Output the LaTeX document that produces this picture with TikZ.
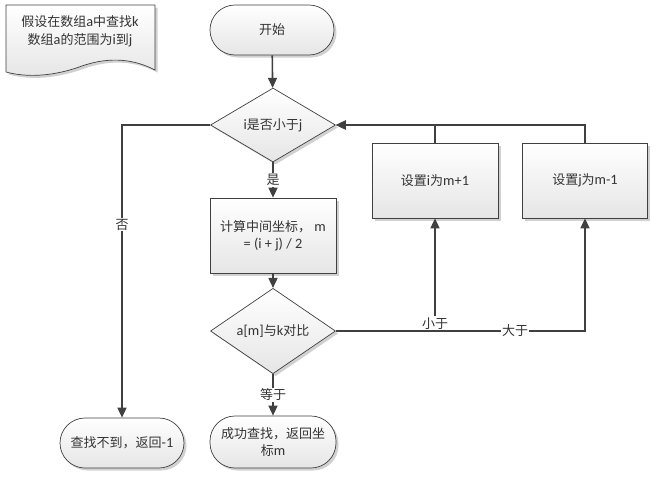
\documentclass[tikz,border=0pt]{standalone}
\usepackage{fontspec}
\setmainfont[Scale=1.1]{Carlito}
\newfontfamily\cjk{Noto Sans CJK SC}
\newcommand{\zh}[1]{{\cjk #1}}
\usetikzlibrary{shapes.geometric,shadows,arrows.meta}
\definecolor{lc}{HTML}{404040}
\definecolor{tc}{HTML}{333333}
\tikzset{
  base/.style={draw=lc, line width=0.7pt, top color=white, bottom color=black!10,
    text=tc, align=center, font=\fontsize{13}{17}\selectfont, inner sep=2pt,
    drop shadow={shadow xshift=2.5pt, shadow yshift=-2.5pt, fill=black, opacity=0.18}},
  procbox/.style={base, rectangle, minimum width=126pt, minimum height=75pt},
  termbox/.style={base, rectangle, rounded corners=25pt, minimum width=124pt, minimum height=50pt},
  decbox/.style={base, diamond, minimum width=125pt, minimum height=74pt, inner sep=0pt},
  conn/.style={draw=lc, line width=1.6pt, -{Triangle[length=10pt,width=9pt]}},
  elabel/.style={fill=white, text=tc, inner sep=1pt, font=\fontsize{13}{15}\selectfont}
}
\begin{document}
\begin{tikzpicture}[x=1pt,y=-1pt]
\useasboundingbox (0,0) rectangle (656,477);
% document shape
\path[draw=lc, line width=0.7pt, top color=white, bottom color=black!10,
  drop shadow={shadow xshift=2.5pt, shadow yshift=-2.5pt, fill=black, opacity=0.18}]
  (6,5) -- (155,5) -- (155,70)
  .. controls (130,57) and (105,58) .. (82,66)
  .. controls (55,76) and (28,78) .. (6,72) -- cycle;
\node[text=tc, align=center, font=\fontsize{13}{18}\selectfont] (doc) at (80,31)
  {\zh{假设在数组}a\zh{中查找}k\\\zh{数组}a\zh{的范围为}i\zh{到}j};

\node[termbox] (start) at (272,30) {\zh{开始}};
\node[decbox] (d1) at (273,125) {i\zh{是否小于}j};
\node[procbox] (calc) at (273,235.5) {\zh{计算中间坐标，} m\\= (i + j) / 2};
\node[decbox] (d2) at (273,331) {a[m]\zh{与}k\zh{对比}};
\node[termbox, minimum width=126pt, minimum height=52pt] (found) at (273,442) {\zh{成功查找，返回坐}\\\zh{标}m};
\node[termbox] (notfound) at (122,443) {\zh{查找不到，返回}-1};
\node[procbox] (setI) at (435,180.5) {\zh{设置}i\zh{为}m+1};
\node[procbox, minimum width=125pt] (setJ) at (585,180.5) {\zh{设置}j\zh{为}m-1};

\coordinate (nocorner) at (122,125);

\draw[conn] (start) -- (d1);
\draw[conn] (d1) -- node[elabel] {\zh{是}} (calc);
\draw[conn] (calc) -- (d2);
\draw[conn] (d2) -- node[elabel] {\zh{等于}} (found);
\draw[conn] (d1.west) -- (nocorner) -- node[elabel, pos=0.34] {\zh{否}} (notfound.north);
\draw[conn] (d2.east) -| node[elabel, pos=0.5, anchor=south] {\zh{小于}} (setI.south);
\draw[conn] (d2.east) -| node[elabel, pos=0.36] {\zh{大于}} (setJ.south);
\draw[conn] (setI.north) |- (d1.east);
\draw[conn] (setJ.north) |- (d1.east);
\end{tikzpicture}
\end{document}
